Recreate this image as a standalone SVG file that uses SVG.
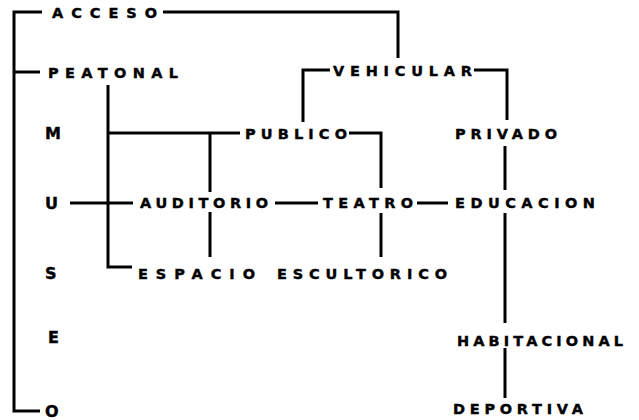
<svg xmlns="http://www.w3.org/2000/svg" width="639" height="420" viewBox="0 0 639 420">
<style>
.t{font-family:"DejaVu Sans","Liberation Sans",sans-serif;font-weight:bold;font-size:14.5px;fill:#000;stroke:#000;stroke-width:0.4}
.b{font-size:16px}
.l{fill:none;stroke:#000;stroke-width:3;stroke-linecap:butt;stroke-linejoin:miter}
</style>
<rect width="639" height="420" fill="#fff"/>
<g id="connectors">
<path class="l" d="M42 12 H14 V411 H40"/>
<path class="l" d="M14 72 H40"/>
<path class="l" d="M163 12 H398 V58"/>
<path class="l" d="M303 122 V70 H330"/>
<path class="l" d="M474 70 H507 V120"/>
<path class="l" d="M108 85 V267 H132"/>
<path class="l" d="M108 133 H240"/>
<path class="l" d="M210 133 V192"/>
<path class="l" d="M210 212 V257"/>
<path class="l" d="M349 133 H381 V188"/>
<path class="l" d="M70 203 H133"/>
<path class="l" d="M275 203 H318"/>
<path class="l" d="M417 203 H448"/>
<path class="l" d="M381 213 V257"/>
<path class="l" d="M505 146 V190"/>
<path class="l" d="M505 213 V323"/>
<path class="l" d="M505 348 V398"/>
</g>
<g id="acceso"><text class="t" x="52" y="17.5" textLength="105" lengthAdjust="spacing">ACCESO</text></g>
<g id="peatonal"><text class="t" x="48" y="77.5" textLength="130" lengthAdjust="spacing">PEATONAL</text></g>
<g id="vehicular"><text class="t" x="333" y="75.5" textLength="139" lengthAdjust="spacing">VEHICULAR</text></g>
<g id="m"><text class="t b" x="45" y="139">M</text></g>
<g id="publico"><text class="t" x="245" y="138.5" textLength="102" lengthAdjust="spacing">PUBLICO</text></g>
<g id="privado"><text class="t" x="455" y="138.5" textLength="102" lengthAdjust="spacing">PRIVADO</text></g>
<g id="u"><text class="t b" x="45" y="209">U</text></g>
<g id="auditorio"><text class="t" x="140" y="208" textLength="128" lengthAdjust="spacing">AUDITORIO</text></g>
<g id="teatro"><text class="t" x="323" y="208" textLength="90" lengthAdjust="spacing">TEATRO</text></g>
<g id="educacion"><text class="t" x="455" y="208" textLength="140" lengthAdjust="spacing">EDUCACION</text></g>
<g id="s"><text class="t b" x="45" y="279">S</text></g>
<g id="espacio"><text class="t" x="138" y="278.5" textLength="117" lengthAdjust="spacing">ESPACIO</text></g>
<g id="escultorico"><text class="t" x="277" y="278.5" textLength="170" lengthAdjust="spacing">ESCULTORICO</text></g>
<g id="e"><text class="t b" x="48" y="343">E</text></g>
<g id="habitacional"><text class="t" x="457" y="345.5" textLength="166" lengthAdjust="spacing">HABITACIONAL</text></g>
<g id="o"><text class="t b" x="45" y="416.5">O</text></g>
<g id="deportiva"><text class="t" x="453" y="414" textLength="130" lengthAdjust="spacing">DEPORTIVA</text></g>
</svg>
